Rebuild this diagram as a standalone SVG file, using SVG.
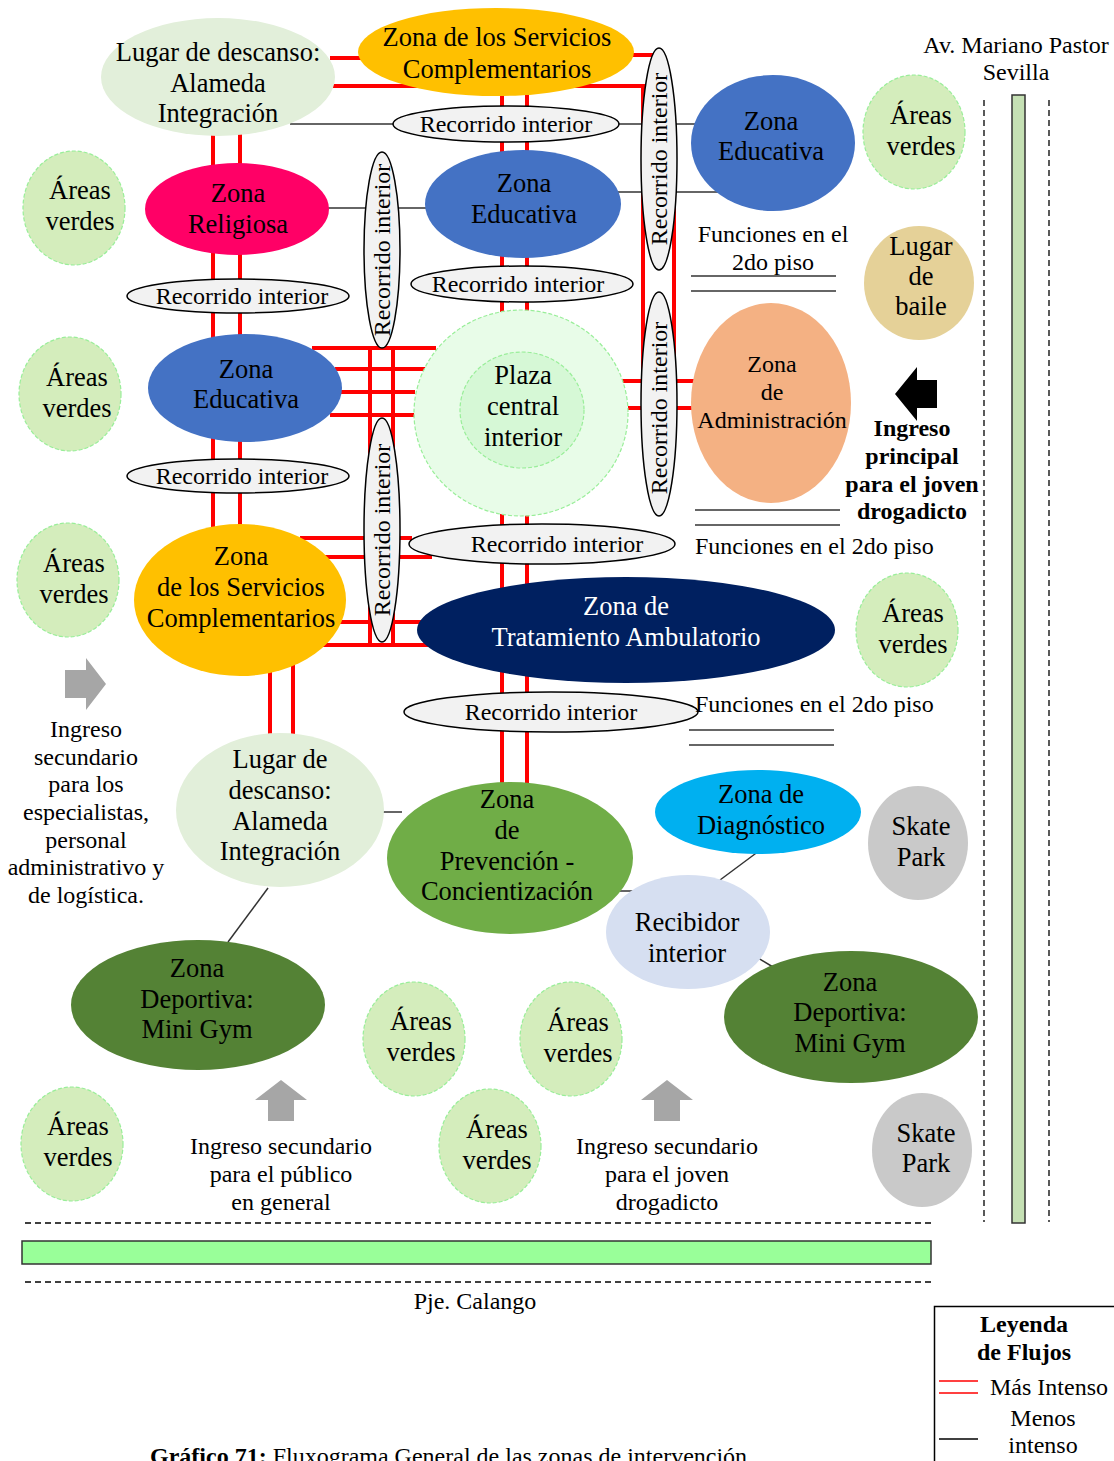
<svg xmlns="http://www.w3.org/2000/svg" width="1114" height="1461" viewBox="0 0 1114 1461">
<style>
text{font-family:"Liberation Serif","Times New Roman",serif;font-size:26.5px;fill:#000;text-anchor:middle;dominant-baseline:central}
.w{fill:#fff}
.b{font-weight:bold;font-size:24px}
.st{font-size:24px}
.rt{font-size:24px}
.red{stroke:#ff0000;stroke-width:4;fill:none}
.blk{stroke:#333;stroke-width:1.5;fill:none}
.rec{fill:#f2f2f2;stroke:#000;stroke-width:1.5}
.av{fill:#d4edbc;stroke:#99ee99;stroke-width:1.2;stroke-dasharray:4 2}
.edu{fill:#4472c4}
.serv{fill:#ffc000}
.lug{fill:#e2efda}
.gym{fill:#548235}
.sk{fill:#c9c9c9}
.dash{stroke:#000;stroke-width:1.3;stroke-dasharray:6 4;fill:none}
.garrow{fill:#a6a6a6}
</style>

<g id="connectors">
  <!-- red (more intense) flows -->
  <line class="red" x1="330" y1="58" x2="362" y2="58"/>
  <line class="red" x1="333" y1="86" x2="645" y2="86"/>
  <line class="red" x1="630" y1="55" x2="655" y2="55"/>
  <line class="red" x1="643" y1="84" x2="643" y2="410"/>
  <line class="red" x1="674" y1="110" x2="674" y2="383"/>
  <line class="red" x1="620" y1="381" x2="695" y2="381"/>
  <line class="red" x1="628" y1="408" x2="695" y2="408"/>
  <line class="red" x1="213" y1="130" x2="213" y2="530"/>
  <line class="red" x1="240" y1="130" x2="240" y2="530"/>
  <line class="red" x1="502" y1="90" x2="502" y2="790"/>
  <line class="red" x1="527" y1="90" x2="527" y2="790"/>
  <line class="red" x1="370" y1="346" x2="370" y2="647"/>
  <line class="red" x1="393" y1="346" x2="393" y2="647"/>
  <line class="red" x1="312" y1="348" x2="436" y2="348"/>
  <line class="red" x1="335" y1="369" x2="431" y2="369"/>
  <line class="red" x1="340" y1="392" x2="415" y2="392"/>
  <line class="red" x1="330" y1="415" x2="417" y2="415"/>
  <line class="red" x1="300" y1="538" x2="412" y2="538"/>
  <line class="red" x1="320" y1="557" x2="432" y2="557"/>
  <line class="red" x1="335" y1="622" x2="425" y2="622"/>
  <line class="red" x1="322" y1="645" x2="432" y2="645"/>
  <line class="red" x1="270" y1="660" x2="270" y2="740"/>
  <line class="red" x1="293" y1="660" x2="293" y2="740"/>
  <!-- black (less intense) flows -->
  <line class="blk" x1="290" y1="124" x2="720" y2="124"/>
  <line class="blk" x1="615" y1="192" x2="720" y2="192"/>
  <line class="blk" x1="325" y1="208" x2="432" y2="208"/>
  <line class="blk" x1="383" y1="812" x2="402" y2="812"/>
  <line class="blk" x1="620" y1="891" x2="663" y2="891"/>
  <line class="blk" x1="763" y1="848" x2="720" y2="880"/>
  <line class="blk" x1="730" y1="941" x2="773" y2="967"/>
  <line class="blk" x1="268" y1="888" x2="228" y2="942"/>
</g>

<g id="lugar-descanso-top"><ellipse class="lug" cx="218" cy="77" rx="117" ry="59"/>
  <text x="218" y="52">Lugar de descanso:</text><text x="218" y="83">Alameda</text><text x="218" y="113">Integración</text></g>
<g id="zona-servicios-top"><ellipse class="serv" cx="496" cy="52" rx="138" ry="44"/>
  <text x="497" y="37">Zona de los Servicios</text><text x="497" y="69">Complementarios</text></g>
<g id="recorrido-top"><ellipse class="rec" cx="506" cy="124" rx="113" ry="18"/><text class="rt" x="506" y="124">Recorrido interior</text></g>
<g id="recorrido-v-right-top"><ellipse class="rec" cx="659" cy="159" rx="18" ry="111"/><text class="rt" transform="translate(659,159) rotate(-90)">Recorrido interior</text></g>
<g id="zona-educativa-right"><ellipse class="edu" cx="773" cy="143" rx="82" ry="68"/>
  <text x="771" y="121">Zona</text><text x="771" y="151">Educativa</text></g>
<g id="areas-verdes-1"><ellipse class="av" cx="74" cy="208" rx="51" ry="57"/><text x="80" y="190">Áreas</text><text x="80" y="221">verdes</text></g>
<g id="zona-religiosa"><ellipse fill="#ff0066" cx="237" cy="209" rx="92" ry="46"/>
  <text x="238" y="193">Zona</text><text x="238" y="224">Religiosa</text></g>
<g id="recorrido-v-left-top"><ellipse class="rec" cx="382" cy="250" rx="18" ry="98"/><text class="rt" transform="translate(382,250) rotate(-90)">Recorrido interior</text></g>
<g id="zona-educativa-mid"><ellipse class="edu" cx="523" cy="204" rx="98" ry="54"/>
  <text x="524" y="183">Zona</text><text x="524" y="214">Educativa</text></g>
<g id="areas-verdes-4"><ellipse class="av" cx="914" cy="132" rx="51" ry="57"/><text x="921" y="115">Áreas</text><text x="921" y="146">verdes</text></g>
<g id="funciones-1"><text class="st" x="773" y="234">Funciones en el</text><text class="st" x="773" y="262">2do piso</text>
  <line class="blk" x1="691" y1="276" x2="836" y2="276"/><line class="blk" x1="691" y1="291" x2="836" y2="291"/></g>
<g id="lugar-baile"><ellipse fill="#e5d198" cx="919" cy="283" rx="55" ry="57"/>
  <text x="921" y="246">Lugar</text><text x="921" y="276">de</text><text x="921" y="306">baile</text></g>
<g id="recorrido-left-1"><ellipse class="rec" cx="238" cy="296" rx="111" ry="17"/><text class="rt" x="242" y="296">Recorrido interior</text></g>
<g id="recorrido-mid-2"><ellipse class="rec" cx="522" cy="284" rx="111" ry="18"/><text class="rt" x="518" y="284">Recorrido interior</text></g>
<g id="areas-verdes-2"><ellipse class="av" cx="70" cy="394" rx="51" ry="57"/><text x="77" y="377">Áreas</text><text x="77" y="408">verdes</text></g>
<g id="zona-educativa-left"><ellipse class="edu" cx="245" cy="388" rx="97" ry="54"/>
  <text x="246" y="369">Zona</text><text x="246" y="399">Educativa</text></g>
<g id="plaza-central"><ellipse fill="#e8fce8" stroke="#99ee99" stroke-width="1.2" stroke-dasharray="4 2" cx="521" cy="413" rx="107" ry="103"/>
  <ellipse fill="#d6f8d6" stroke="#99ee99" stroke-width="1.2" stroke-dasharray="4 2" cx="522" cy="410" rx="62" ry="58"/>
  <text x="523" y="375">Plaza</text><text x="523" y="406">central</text><text x="523" y="437">interior</text></g>
<g id="recorrido-v-right-bottom"><ellipse class="rec" cx="659" cy="404" rx="18" ry="112"/><text class="rt" transform="translate(659,408) rotate(-90)">Recorrido interior</text></g>
<g id="zona-administracion"><ellipse fill="#f4b183" cx="771" cy="403" rx="80" ry="100"/>
  <text class="st" x="772" y="364">Zona</text><text class="st" x="772" y="392">de</text><text class="st" x="772" y="420">Administración</text></g>
<g id="ingreso-principal"><polygon fill="#000" points="895,394 917,367 917,380 937,380 937,408 917,408 917,421"/>
  <text class="b" x="912" y="428">Ingreso</text><text class="b" x="912" y="456">principal</text><text class="b" x="912" y="484">para el joven</text><text class="b" x="912" y="511">drogadicto</text></g>
<g id="recorrido-left-2"><ellipse class="rec" cx="238" cy="476" rx="111" ry="17"/><text class="rt" x="242" y="476">Recorrido interior</text></g>
<g id="recorrido-v-left-bottom"><ellipse class="rec" cx="382" cy="530" rx="18" ry="112"/><text class="rt" transform="translate(382,530) rotate(-90)">Recorrido interior</text></g>
<g id="funciones-2"><line class="blk" x1="695" y1="510" x2="840" y2="510"/><line class="blk" x1="695" y1="525" x2="840" y2="525"/>
  <text class="st" x="695" y="546" style="text-anchor:start">Funciones en el 2do piso</text></g>
<g id="recorrido-mid-3"><ellipse class="rec" cx="542" cy="544" rx="133" ry="20"/><text class="rt" x="557" y="544">Recorrido interior</text></g>
<g id="areas-verdes-3"><ellipse class="av" cx="68" cy="580" rx="51" ry="57"/><text x="74" y="563">Áreas</text><text x="74" y="594">verdes</text></g>
<g id="zona-servicios-left"><ellipse class="serv" cx="240" cy="600" rx="106" ry="76"/>
  <text x="241" y="556">Zona</text><text x="241" y="587">de los Servicios</text><text x="241" y="618">Complementarios</text></g>
<g id="zona-tratamiento"><ellipse fill="#002060" cx="626" cy="630" rx="209" ry="53"/>
  <text class="w" x="626" y="606">Zona de</text><text class="w" x="626" y="637">Tratamiento Ambulatorio</text></g>
<g id="areas-verdes-5"><ellipse class="av" cx="907" cy="630" rx="51" ry="57"/><text x="913" y="613">Áreas</text><text x="913" y="644">verdes</text></g>
<g id="ingreso-especialistas"><polygon class="garrow" points="106,684 86,658 86,670 65,670 65,698 86,698 86,710"/>
  <text class="st" x="86" y="729">Ingreso</text><text class="st" x="86" y="757">secundario</text><text class="st" x="86" y="784">para los</text><text class="st" x="86" y="812">especialistas,</text><text class="st" x="86" y="840">personal</text><text class="st" x="86" y="867">administrativo y</text><text class="st" x="86" y="895">de logística.</text></g>
<g id="recorrido-bottom"><ellipse class="rec" cx="551" cy="712" rx="147" ry="20"/><text class="rt" x="551" y="712">Recorrido interior</text></g>
<g id="funciones-3"><text class="st" x="695" y="704" style="text-anchor:start">Funciones en el 2do piso</text>
  <line class="blk" x1="689" y1="730" x2="834" y2="730"/><line class="blk" x1="689" y1="745" x2="834" y2="745"/></g>
<g id="lugar-descanso-bottom"><ellipse class="lug" cx="280" cy="810" rx="104" ry="77"/>
  <text x="280" y="759">Lugar de</text><text x="280" y="790">descanso:</text><text x="280" y="821">Alameda</text><text x="280" y="851">Integración</text></g>
<g id="zona-prevencion"><ellipse fill="#70ad47" cx="510" cy="858" rx="123" ry="76"/>
  <text x="507" y="799">Zona</text><text x="507" y="830">de</text><text x="507" y="861">Prevención -</text><text x="507" y="891">Concientización</text></g>
<g id="zona-diagnostico"><ellipse fill="#00b0f0" cx="758" cy="812" rx="103" ry="42"/>
  <text x="761" y="794">Zona de</text><text x="761" y="825">Diagnóstico</text></g>
<g id="skate-park-1"><ellipse class="sk" cx="918" cy="843" rx="50" ry="57"/><text x="921" y="826">Skate</text><text x="921" y="857">Park</text></g>
<g id="recibidor"><ellipse fill="#d6dff1" cx="688" cy="932" rx="82" ry="57"/>
  <text x="687" y="922">Recibidor</text><text x="687" y="953">interior</text></g>
<g id="mini-gym-left"><ellipse class="gym" cx="198" cy="1005" rx="127" ry="65"/>
  <text x="197" y="968">Zona</text><text x="197" y="999">Deportiva:</text><text x="197" y="1029">Mini Gym</text></g>
<g id="mini-gym-right"><ellipse class="gym" cx="851" cy="1017" rx="127" ry="66"/>
  <text x="850" y="982">Zona</text><text x="850" y="1012">Deportiva:</text><text x="850" y="1043">Mini Gym</text></g>
<g id="areas-verdes-6"><ellipse class="av" cx="414" cy="1039" rx="51" ry="57"/><text x="421" y="1021">Áreas</text><text x="421" y="1052">verdes</text></g>
<g id="areas-verdes-7"><ellipse class="av" cx="571" cy="1039" rx="51" ry="57"/><text x="578" y="1022">Áreas</text><text x="578" y="1053">verdes</text></g>
<g id="areas-verdes-8"><ellipse class="av" cx="72" cy="1144" rx="51" ry="57"/><text x="78" y="1126">Áreas</text><text x="78" y="1157">verdes</text></g>
<g id="areas-verdes-9"><ellipse class="av" cx="490" cy="1146" rx="51" ry="57"/><text x="497" y="1129">Áreas</text><text x="497" y="1160">verdes</text></g>
<g id="skate-park-2"><ellipse class="sk" cx="922" cy="1150" rx="50" ry="57"/><text x="926" y="1133">Skate</text><text x="926" y="1163">Park</text></g>
<g id="ingreso-publico"><polygon class="garrow" points="281,1080 307,1100 294,1100 294,1121 268,1121 268,1100 255,1100"/>
  <text class="st" x="281" y="1146">Ingreso secundario</text><text class="st" x="281" y="1174">para el público</text><text class="st" x="281" y="1202">en general</text></g>
<g id="ingreso-joven"><polygon class="garrow" points="667,1080 693,1100 680,1100 680,1121 654,1121 654,1100 641,1100"/>
  <text class="st" x="667" y="1146">Ingreso secundario</text><text class="st" x="667" y="1174">para el joven</text><text class="st" x="667" y="1202">drogadicto</text></g>

<g id="avenida">
  <text class="st" x="1016" y="45">Av. Mariano Pastor</text><text class="st" x="1016" y="72">Sevilla</text>
  <line class="dash" x1="984" y1="100" x2="984" y2="1222"/>
  <line class="dash" x1="1049" y1="100" x2="1049" y2="1222"/>
  <rect x="1012" y="95" width="13" height="1128" fill="#c5e0b4" stroke="#333" stroke-width="1.5"/>
</g>
<g id="pasaje">
  <line class="dash" x1="25" y1="1223" x2="935" y2="1223"/>
  <rect x="22" y="1241" width="909" height="23" fill="#99ff99" stroke="#333" stroke-width="1.5"/>
  <line class="dash" x1="25" y1="1282" x2="935" y2="1282"/>
  <text class="st" x="475" y="1301">Pje. Calango</text>
</g>
<g id="leyenda">
  <rect x="934.5" y="1306.5" width="190" height="170" fill="#fff" stroke="#000" stroke-width="1.5"/>
  <text class="b" x="1024" y="1324">Leyenda</text><text class="b" x="1024" y="1352">de Flujos</text>
  <line x1="939" y1="1381" x2="978" y2="1381" stroke="#ff0000" stroke-width="1.5"/>
  <line x1="939" y1="1393" x2="978" y2="1393" stroke="#ff0000" stroke-width="1.5"/>
  <text class="st" x="990" y="1387" style="text-anchor:start">Más Intenso</text>
  <text class="st" x="1043" y="1418">Menos</text><text class="st" x="1043" y="1445">intenso</text>
  <line x1="939" y1="1439" x2="978" y2="1439" stroke="#000" stroke-width="1.5"/>
</g>
<g id="caption">
  <text x="150" y="1464" style="text-anchor:start;dominant-baseline:auto;font-size:24px"><tspan font-weight="bold">Gráfico 71:</tspan> Fluxograma General de las zonas de intervención.</text>
</g>
</svg>
